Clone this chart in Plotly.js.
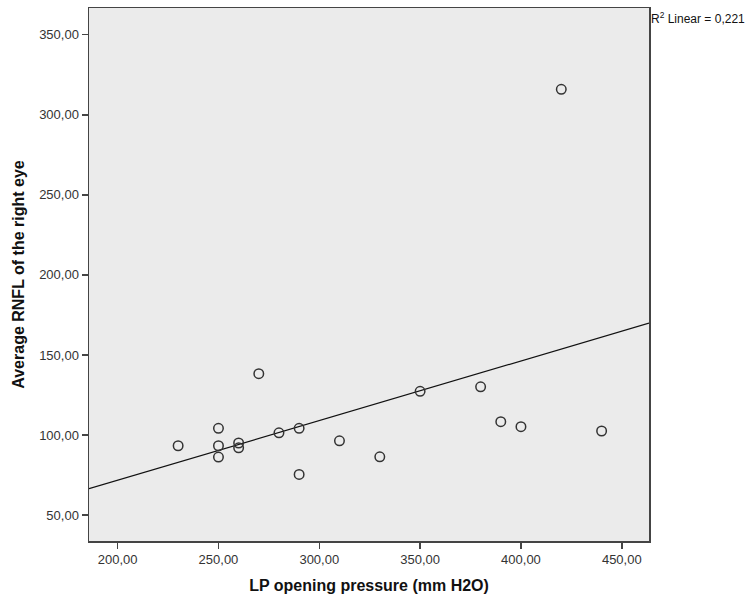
<!DOCTYPE html>
<html>
<head>
<meta charset="utf-8">
<script src="https://cdn.plot.ly/plotly-3.0.1.min.js"></script>
<style>html,body{margin:0;padding:0;background:#fff;}#chart{width:751px;height:601px;}</style>
</head>
<body>
<div id="chart"></div>
<script>
var lpPressure = [230, 250, 250, 250, 260, 260, 270, 280, 290, 290, 310, 330, 350, 380, 390, 400, 420, 440];
var rnflRight  = [93.3, 104.2, 93.3, 86.2, 95.0, 92.0, 138.3, 101.4, 104.2, 75.4, 96.4, 86.4, 127.3, 130.1, 108.3, 105.2, 315.9, 102.5];
var xTicks = [200, 250, 300, 350, 400, 450];
var yTicks = [50, 100, 150, 200, 250, 300, 350];
var xRange = [185.8, 463.5];
var yRange = [33.8, 366.7];

// least-squares fit line
var n = lpPressure.length, mx = 0, my = 0;
for (var i = 0; i < n; i++) { mx += lpPressure[i]; my += rnflRight[i]; }
mx /= n; my /= n;
var sxy = 0, sxx = 0;
for (var i = 0; i < n; i++) { sxy += (lpPressure[i]-mx)*(rnflRight[i]-my); sxx += (lpPressure[i]-mx)*(lpPressure[i]-mx); }
var slope = sxy/sxx, intercept = my - slope*mx;
var fitX = [xRange[0], xRange[1]];
var fitY = fitX.map(function(v){ return intercept + slope*v; });

var tickFont = {family: 'Liberation Sans, Arial, sans-serif', size: 13, color: '#333'};
var titleFont = {family: 'Liberation Sans, Arial, sans-serif', size: 16, color: '#111', weight: 'bold'};

var traces = [
  {x: fitX, y: fitY, mode: 'lines', line: {color: '#111', width: 1.2}, hoverinfo: 'skip', showlegend: false},
  {x: lpPressure, y: rnflRight, mode: 'markers', marker: {symbol: 'circle-open', size: 9.5, line: {color: '#333', width: 1.5}, color: '#333'}, showlegend: false}
];

var layout = {
  width: 751, height: 601,
  margin: {l: 89, r: 102, t: 8, b: 60},
  paper_bgcolor: '#ffffff',
  plot_bgcolor: '#ebebeb',
  separators: ',.',
  showlegend: false,
  xaxis: {
    range: xRange, tickvals: xTicks, tickformat: '.2f',
    showgrid: false, zeroline: false,
    showline: true, linecolor: '#444', linewidth: 1.5, mirror: true,
    ticks: 'outside', ticklen: 6, tickcolor: '#444', tickwidth: 1.5,
    tickfont: tickFont,
    title: {text: 'LP opening pressure (mm H2O)', font: titleFont, standoff: 13}
  },
  yaxis: {
    range: yRange, tickvals: yTicks, tickformat: '.2f',
    showgrid: false, zeroline: false,
    showline: true, linecolor: '#444', linewidth: 1.5, mirror: true,
    ticks: 'outside', ticklen: 6, tickcolor: '#444', tickwidth: 1.5,
    tickfont: tickFont,
    title: {text: 'Average RNFL of the right eye', font: titleFont, standoff: 10}
  },
  annotations: [{
    xref: 'paper', yref: 'paper', x: 1.0, y: 1.0, xanchor: 'left', yanchor: 'top',
    text: 'R<sup>2</sup> Linear = 0,221', showarrow: false,
    font: {family: 'Liberation Sans, Arial, sans-serif', size: 12, color: '#111'}
  }]
};

Plotly.newPlot('chart', traces, layout, {displayModeBar: false, staticPlot: true});
</script>
</body>
</html>
